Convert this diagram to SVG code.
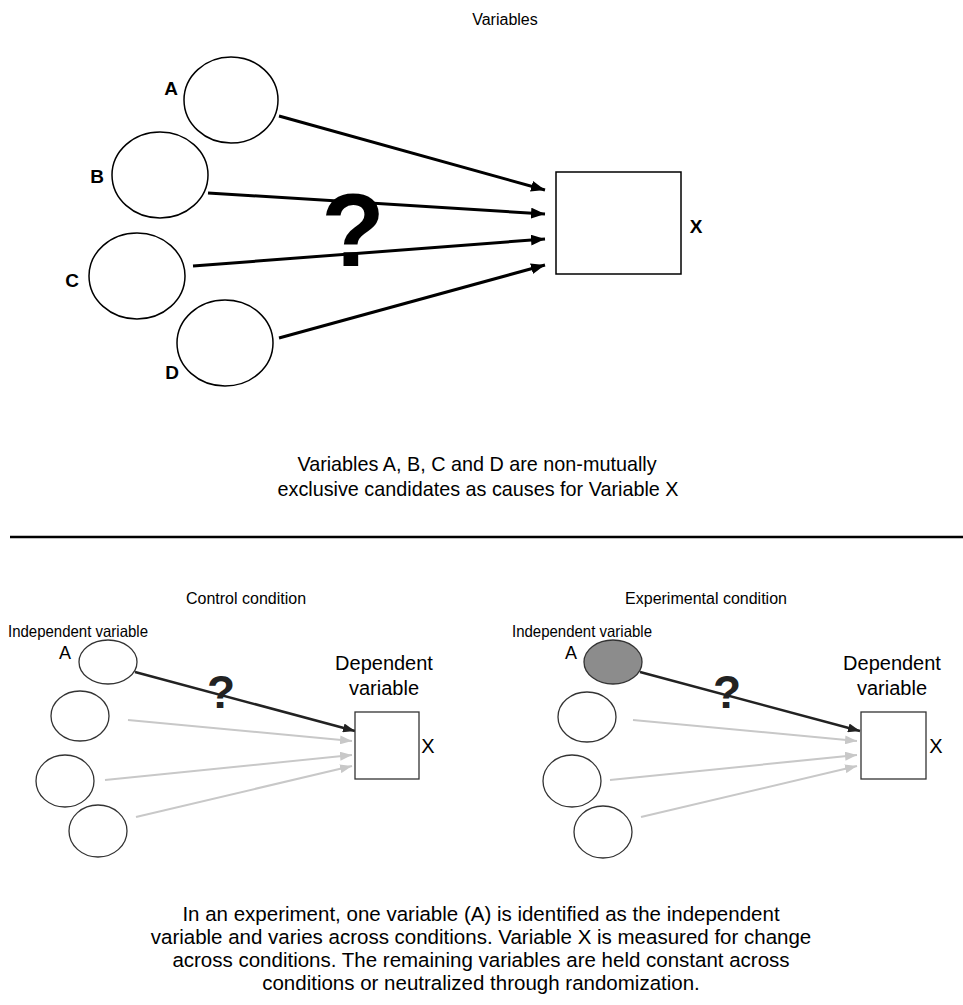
<svg xmlns="http://www.w3.org/2000/svg" width="963" height="1005" viewBox="0 0 963 1005">
<style>
text{font-family:"Liberation Sans",Arial,sans-serif;fill:#000}
.t{font-size:16px}
.i{font-size:16.5px}
.b{font-size:19px;font-weight:bold}
.c{font-size:19.8px}
.d{font-size:20.5px}
.q{font-size:20px}
.a{font-size:18px}
.n{fill:#fff;stroke:#000;stroke-width:1.5}
.p{fill:#fff;stroke:#333;stroke-width:1.3}
.main{stroke:#000;stroke-width:3;fill:none}
.dark{stroke:#222;stroke-width:2.5;fill:none}
.light{stroke:#c8c8c8;stroke-width:2;fill:none}
</style>
<defs>
<marker id="ah" markerUnits="userSpaceOnUse" markerWidth="14" markerHeight="11" refX="14" refY="5.5" orient="auto"><path d="M0,0 L14,5.5 L0,11 z" fill="#000"/></marker>
<marker id="ahd" markerUnits="userSpaceOnUse" markerWidth="12" markerHeight="9" refX="12" refY="4.5" orient="auto"><path d="M0,0 L12,4.5 L0,9 z" fill="#222"/></marker>
<marker id="ahl" markerUnits="userSpaceOnUse" markerWidth="12" markerHeight="9" refX="12" refY="4.5" orient="auto"><path d="M0,0 L12,4.5 L0,9 z" fill="#c8c8c8"/></marker>
</defs>
<rect width="963" height="1005" fill="#fff"/>

<text class="t" x="505" y="25" text-anchor="middle">Variables</text>

<g id="connectors">
<line class="main" x1="279" y1="116" x2="545" y2="190" marker-end="url(#ah)"/>
<line class="main" x1="208" y1="193" x2="545" y2="214" marker-end="url(#ah)"/>
<line class="main" x1="193" y1="266" x2="545" y2="239" marker-end="url(#ah)"/>
<line class="main" x1="279" y1="338" x2="545" y2="265" marker-end="url(#ah)"/>
<line class="light" x1="128" y1="720" x2="352" y2="741" marker-end="url(#ahl)"/>
<line class="light" x1="105" y1="780" x2="352" y2="755" marker-end="url(#ahl)"/>
<line class="light" x1="136" y1="817" x2="352" y2="766" marker-end="url(#ahl)"/>
<line class="dark" x1="135" y1="672" x2="355" y2="731" marker-end="url(#ahd)"/>
<line class="light" x1="633" y1="720" x2="857" y2="741" marker-end="url(#ahl)"/>
<line class="light" x1="610" y1="780" x2="857" y2="755" marker-end="url(#ahl)"/>
<line class="light" x1="641" y1="817" x2="857" y2="766" marker-end="url(#ahl)"/>
<line class="dark" x1="640" y1="672" x2="860" y2="731" marker-end="url(#ahd)"/>
</g>

<text x="353" y="266" text-anchor="middle" style="font-size:104px;font-weight:bold">?</text>

<g id="nodeA"><ellipse class="n" cx="231" cy="100" rx="47" ry="43"/><text class="b" x="171" y="95" text-anchor="middle">A</text></g>
<g id="nodeB"><ellipse class="n" cx="160" cy="175" rx="48" ry="43"/><text class="b" x="97" y="183" text-anchor="middle">B</text></g>
<g id="nodeC"><ellipse class="n" cx="137" cy="276" rx="48" ry="43"/><text class="b" x="72" y="287" text-anchor="middle">C</text></g>
<g id="nodeD"><ellipse class="n" cx="225" cy="343" rx="48" ry="43"/><text class="b" x="172" y="379" text-anchor="middle">D</text></g>
<g id="nodeX"><rect class="n" x="556" y="172" width="125" height="102"/><text class="b" x="696" y="233" text-anchor="middle">X</text></g>

<text class="c" x="477" y="471" text-anchor="middle">Variables A, B, C and D are non-mutually</text>
<text class="c" x="478" y="496" text-anchor="middle">exclusive candidates as causes for Variable X</text>

<line x1="10" y1="537" x2="963" y2="537" stroke="#000" stroke-width="2.5"/>

<text class="t" x="246" y="604" text-anchor="middle">Control condition</text>
<text class="t" x="706" y="604" text-anchor="middle">Experimental condition</text>
<text class="i" x="8" y="637" textLength="140" lengthAdjust="spacingAndGlyphs">Independent variable</text>
<text class="i" x="512" y="637" textLength="140" lengthAdjust="spacingAndGlyphs">Independent variable</text>

<g id="ctrlA"><ellipse class="p" cx="108" cy="662" rx="29" ry="22"/><text class="a" x="65" y="659" text-anchor="middle">A</text></g>
<g id="ctrlB"><ellipse class="p" cx="80" cy="716" rx="29" ry="25"/></g>
<g id="ctrlC"><ellipse class="p" cx="65" cy="781" rx="29" ry="26"/></g>
<g id="ctrlD"><ellipse class="p" cx="98" cy="831" rx="29" ry="26"/></g>
<g id="ctrlX"><rect class="p" x="355" y="712" width="64" height="67"/><text class="q" x="384" y="670" text-anchor="middle">Dependent</text><text class="q" x="384" y="695" text-anchor="middle">variable</text><text class="q" x="428" y="753" text-anchor="middle">X</text></g>
<text x="221" y="708" text-anchor="middle" style="font-size:46px;font-weight:bold;fill:#222">?</text>

<g id="expA"><ellipse cx="613" cy="662" rx="29" ry="22" fill="#8c8c8c" stroke="#333" stroke-width="1.3"/><text class="a" x="571" y="659" text-anchor="middle">A</text></g>
<g id="expB"><ellipse class="p" cx="587" cy="717" rx="29" ry="25"/></g>
<g id="expC"><ellipse class="p" cx="572" cy="781" rx="29" ry="26"/></g>
<g id="expD"><ellipse class="p" cx="603" cy="832" rx="29" ry="26"/></g>
<g id="expX"><rect class="p" x="861" y="712" width="65" height="67"/><text class="q" x="892" y="670" text-anchor="middle">Dependent</text><text class="q" x="892" y="695" text-anchor="middle">variable</text><text class="q" x="936" y="753" text-anchor="middle">X</text></g>
<text x="727" y="708" text-anchor="middle" style="font-size:46px;font-weight:bold;fill:#222">?</text>

<text class="d" x="481" y="921" text-anchor="middle">In an experiment, one variable (A) is identified as the independent</text>
<text class="d" x="481" y="944" text-anchor="middle">variable and varies across conditions. Variable X is measured for change</text>
<text class="d" x="481" y="967" text-anchor="middle">across conditions. The remaining variables are held constant across</text>
<text class="d" x="481" y="990" text-anchor="middle">conditions or neutralized through randomization.</text>
</svg>
